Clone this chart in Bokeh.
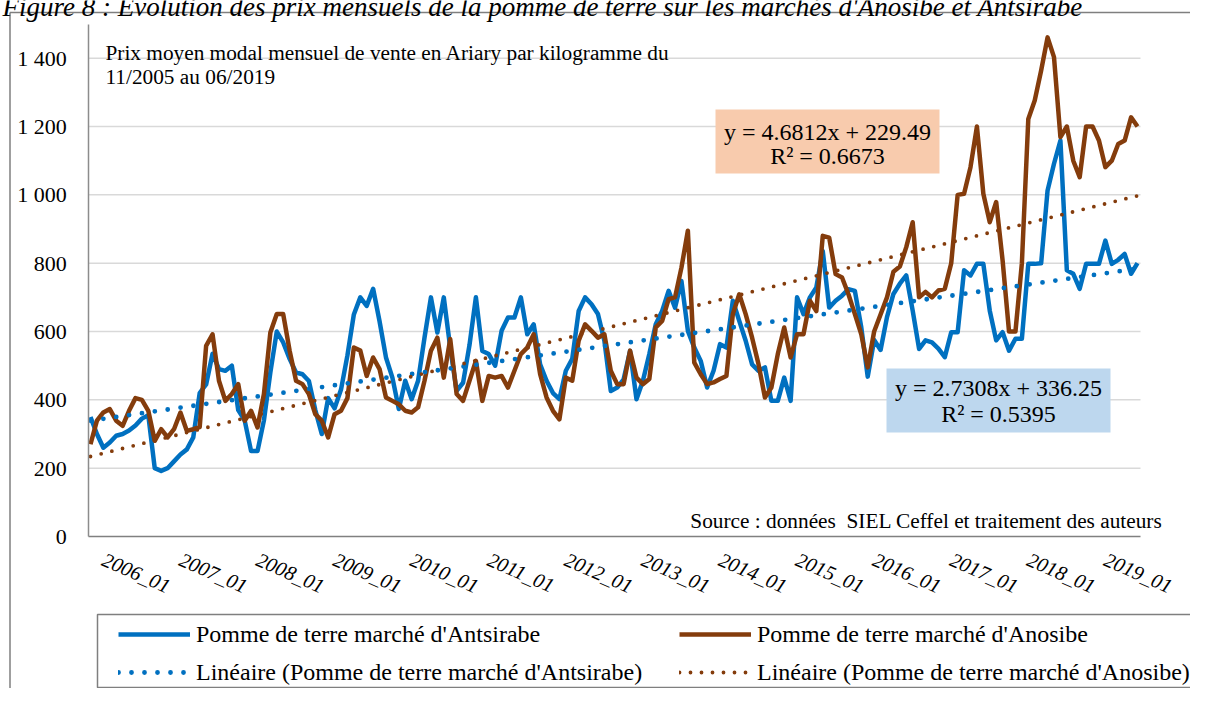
import numpy as np
from bokeh.plotting import figure
from bokeh.models import (Range1d, LinearAxis, FixedTicker, Label, Legend, LegendItem)
from bokeh.embed import file_html
from bokeh.resources import INLINE

# ---------------- data ----------------
months = []
yy, mm = 2005, 11
for _ in range(164):
    months.append(f"{yy}_{mm:02d}")
    mm += 1
    if mm > 12:
        mm, yy = 1, yy + 1

antsirabe = [
    350, 300, 260, 275, 295, 300, 310, 325, 345, 355,
    200, 192, 200, 220, 240, 255, 290, 420, 445, 535,
    490, 485, 500, 370, 340, 250, 250, 340, 480, 600,
    568, 520, 480, 475, 455, 370, 300, 405, 375, 430,
    530, 650, 700, 675, 725, 630, 524, 465, 373, 456,
    402, 456, 582, 700, 597, 700, 553, 426, 450, 560,
    700, 543, 534, 500, 602, 641, 641, 700, 592, 621,
    504, 456, 420, 402, 485, 520, 660, 700, 680, 651,
    573, 426, 436, 460, 543, 402, 456, 534, 621, 660,
    719, 670, 748, 602, 553, 514, 436, 485, 563, 553,
    690, 631, 573, 504, 485, 495, 397, 397, 465, 397,
    700, 651, 700, 729, 836, 670, 690, 705, 724, 719,
    612, 468, 575, 546, 642, 710, 740, 764, 661, 549,
    574, 568, 550, 525, 598, 598, 779, 764, 798, 798,
    661, 574, 598, 544, 579, 579, 798, 798, 800, 1013,
    1091, 1159, 779, 769, 725, 798, 798, 798, 866, 798,
    810, 827, 769, 800,
]

anosibe = [
    270, 339, 363, 373, 339, 324, 368, 405, 400, 368,
    280, 314, 290, 314, 363, 309, 314, 320, 558, 592,
    456, 397, 417, 446, 339, 368, 319, 417, 597, 651,
    651, 544, 456, 446, 417, 358, 339, 290, 358, 368,
    405, 553, 544, 470, 524, 490, 407, 397, 387, 368,
    363, 378, 456, 544, 582, 465, 578, 417, 397, 456,
    514, 397, 470, 465, 470, 436, 485, 534, 553, 592,
    475, 407, 368, 343, 465, 456, 573, 621, 602, 582,
    592, 485, 446, 446, 544, 465, 446, 461, 612, 631,
    695, 700, 787, 895, 509, 475, 446, 451, 461, 470,
    651, 709, 651, 582, 504, 407, 436, 534, 612, 524,
    592, 592, 690, 660, 880, 875, 768, 758, 709, 651,
    592, 495, 600, 650, 700, 775, 790, 847, 920, 700,
    716, 700, 720, 725, 800, 1000, 1003, 1081, 1200, 1003,
    920, 979, 808, 600, 600, 800, 1222, 1276, 1364, 1461,
    1403, 1169, 1200, 1100, 1052, 1200, 1200, 1159, 1081, 1100,
    1149, 1159, 1227, 1200,
]

tick_labels = ["2006_01", "2007_01", "2008_01", "2009_01", "2010_01", "2011_01",
               "2012_01", "2013_01", "2014_01", "2015_01", "2016_01", "2017_01",
               "2018_01", "2019_01"]
y_ticks = [0, 200, 400, 600, 800, 1000, 1200, 1400]
y_tick_labels = ["0", "200", "400", "600", "800", "1 000", "1 200", "1 400"]

trend_antsirabe_slope, trend_antsirabe_intercept = 2.7308, 336.25
trend_anosibe_slope, trend_anosibe_intercept = 4.6812, 229.49
eq_antsirabe = ["y = 2.7308x + 336.25", "R² = 0.5395"]
eq_anosibe = ["y = 4.6812x + 229.49", "R² = 0.6673"]

series_names = ["Pomme de terre marché d'Antsirabe", "Pomme de terre marché d'Anosibe"]
title_text = ("Figure 8 : Evolution des prix mensuels de la pomme de terre "
              "sur les marchés d'Anosibe et Antsirabe")
note_lines = ["Prix moyen modal mensuel de vente en Ariary par kilogramme du",
              "11/2005 au 06/2019"]
source_text = "Source : données \u00a0SIEL Ceffel et traitement des auteurs"

# ---------------- layout (canvas pixels) ----------------
W, H = 1190, 688
STEP = 6.4233          # px per month
X_FIRST = 90.0         # canvas x of first month
ZERO_Y = 536.0         # canvas y of value 0
PPU = 0.34164          # px per unit

x_start = 1 - X_FIRST / STEP
x_end = x_start + W / STEP
y_end = ZERO_Y / PPU
y_start = y_end - H / PPU


def X(px):
    return x_start + px / STEP


def Y(py):
    return y_end - py / PPU


FONT = "Liberation Serif"
BLUE = "#0070C0"
BROWN = "#843C0C"

p = figure(width=W, height=H, x_range=Range1d(x_start, x_end),
           y_range=Range1d(y_start, y_end), output_backend="svg",
           toolbar_location=None, x_axis_type=None, y_axis_type=None,
           min_border=0, outline_line_color=None,
           background_fill_color="white", border_fill_color="white")

xs = np.arange(1, len(months) + 1)
tick_pos = [months.index(t) + 1 for t in tick_labels]

# outer frame lines
p.segment(x0=[X(9.5), X(9.5)], y0=[Y(12), Y(12)], x1=[X(W + 10), X(9.5)],
          y1=[Y(12), Y(H + 10)], line_color="#7f7f7f", line_width=1.5)

# gridlines
p.segment(x0=X(88), x1=X(1140), y0=y_ticks[1:], y1=y_ticks[1:],
          line_color="#d9d9d9", line_width=1.5)

# equation boxes
p.quad(left=[X(715), X(886)], right=[X(939), X(1110)],
       top=[Y(109), Y(368)], bottom=[Y(173), Y(432)],
       fill_color=["#F8CBAD", "#BDD7EE"], line_color=None)

# legend frame
p.quad(left=X(97), right=X(W + 10), top=Y(614), bottom=Y(687),
       fill_color=None, line_color="#7f7f7f", line_width=1.5)

r_blue = p.line(xs, antsirabe, line_color=BLUE, line_width=4.5, line_join="round")
r_brown = p.line(xs, anosibe, line_color=BROWN, line_width=4.5, line_join="round")
r_blue_t = p.line(xs, trend_antsirabe_slope * xs + trend_antsirabe_intercept,
                  line_color=BLUE, line_width=4.8, line_dash="0 13", line_cap="round")
r_brown_t = p.line(xs, trend_anosibe_slope * xs + trend_anosibe_intercept,
                   line_color=BROWN, line_width=3.8, line_dash="0 11", line_cap="round")

# axes
yaxis = LinearAxis(fixed_location=X(88.3), bounds=(0, 1500),
                   ticker=FixedTicker(ticks=y_ticks),
                   major_label_overrides=dict(zip(y_ticks, y_tick_labels)),
                   major_tick_out=0, major_tick_in=0, minor_tick_out=0, minor_tick_in=0,
                   axis_line_color="#8c8c8c", axis_line_width=1.5,
                   major_label_standoff=22, major_label_text_font=FONT,
                   major_label_text_font_size="22px", major_label_text_color="black")
p.add_layout(yaxis, "left")

xaxis = LinearAxis(fixed_location=0, bounds=(X(88), X(1140)),
                   ticker=FixedTicker(ticks=tick_pos),
                   major_label_overrides=dict(zip(tick_pos, tick_labels)),
                   major_label_orientation=-0.41,
                   major_tick_out=0, major_tick_in=0, minor_tick_out=0, minor_tick_in=0,
                   axis_line_color="#808080", axis_line_width=1.5,
                   major_label_standoff=22, major_label_text_font=FONT,
                   major_label_text_font_style="italic",
                   major_label_text_font_size="20.5px", major_label_text_color="black")
p.add_layout(xaxis, "below")

# texts
p.add_layout(Label(x=X(2), y=Y(6.5), text=title_text, text_font=FONT,
                   text_font_style="italic", text_font_size="27px",
                   text_align="left", text_baseline="alphabetic", text_color="black"))
for i, t in enumerate(note_lines):
    p.add_layout(Label(x=X(105), y=Y(52 + 24.5 * i), text=t, text_font=FONT,
                       text_font_size="21.3px", text_align="left",
                       text_baseline="middle", text_color="black"))
p.add_layout(Label(x=X(1162), y=Y(520), text=source_text, text_font=FONT,
                   text_font_size="21.3px", text_align="right",
                   text_baseline="middle", text_color="black"))
for i, t in enumerate(eq_anosibe):
    p.add_layout(Label(x=X(827), y=Y(131 + 24 * i), text=t, text_font=FONT,
                       text_font_size="24px", text_align="center",
                       text_baseline="middle", text_color="black"))
for i, t in enumerate(eq_antsirabe):
    p.add_layout(Label(x=X(998), y=Y(387 + 26.5 * i), text=t, text_font=FONT,
                       text_font_size="24px", text_align="center",
                       text_baseline="middle", text_color="black"))

legend = Legend(items=[
    LegendItem(label=series_names[0], renderers=[r_blue]),
    LegendItem(label=f"Linéaire ({series_names[0]})", renderers=[r_blue_t]),
    LegendItem(label=series_names[1], renderers=[r_brown]),
    LegendItem(label=f"Linéaire ({series_names[1]})", renderers=[r_brown_t]),
], orientation="vertical", ncols=2, location=(118, -3),
    label_text_font=FONT, label_text_font_size="24px", label_text_color="black",
    glyph_width=72, glyph_height=38, label_standoff=6, label_width=483,
    spacing=0, padding=0, margin=0, border_line_alpha=0, background_fill_alpha=0)
p.add_layout(legend)

open("out.html", "w").write(file_html(p, INLINE))
